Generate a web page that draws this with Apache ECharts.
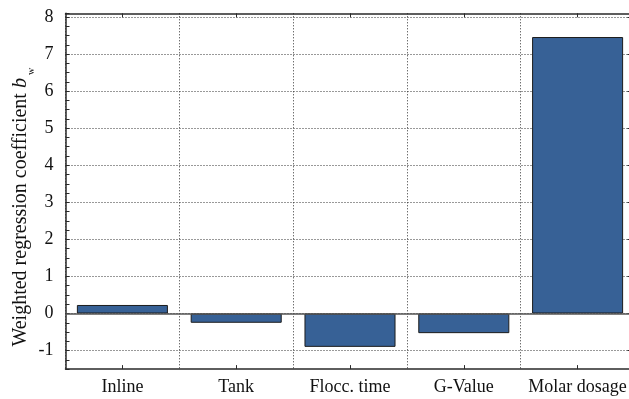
<!DOCTYPE html>
<html>
<head>
<meta charset="utf-8">
<script src="https://cdn.jsdelivr.net/npm/echarts@6/dist/echarts.min.js"></script>
<style>
  html, body { margin: 0; padding: 0; background: #fff; }
  #chart { width: 629px; height: 399px; }
</style>
</head>
<body>
<div id="chart"></div>
<script>
// Factors and their weighted regression coefficients
const categories = ['Inline', 'Tank', 'Flocc. time', 'G-Value', 'Molar dosage'];
const coefficients = [0.23, -0.25, -0.90, -0.53, 7.46];

// Value-axis range, labelled ticks and small-tick step
const yMajorTicks = [-1, 0, 1, 2, 3, 4, 5, 6, 7, 8];
const yMin = -1.5;
const yMax = 8.1;
const yMinorStep = 0.25;

const serif = '"Liberation Serif", "Times New Roman", serif';
const frameColor = '#2a2a2a';
const gridLine = { show: true, interval: 0, lineStyle: { color: '#333', type: [1, 2], width: 1 } };

const chart = echarts.init(document.getElementById('chart'), null, { renderer: 'canvas' });

chart.setOption({
  animation: false,
  backgroundColor: '#ffffff',
  grid: { left: 65.5, right: -5.5, top: 13.3, bottom: 29.9, containLabel: false, outerBoundsMode: 'none' },
  xAxis: [
    {
      type: 'category',
      data: categories,
      position: 'bottom',
      boundaryGap: true,
      axisLine: { show: true, onZero: false, lineStyle: { color: frameColor, width: 1.5 } },
      axisTick: { show: true, inside: true, interval: 0, alignWithLabel: true, length: 4, lineStyle: { color: frameColor } },
      axisLabel: { interval: 0, fontFamily: serif, fontSize: 18, color: '#111', margin: 9 },
      splitLine: gridLine
    },
    {
      type: 'category',
      data: categories,
      position: 'top',
      boundaryGap: true,
      axisLine: { show: true, onZero: false, lineStyle: { color: frameColor, width: 1.5 } },
      axisTick: { show: true, inside: true, interval: 0, alignWithLabel: true, length: 4, lineStyle: { color: frameColor } },
      axisLabel: { show: false },
      splitLine: { show: false }
    }
  ],
  yAxis: [
    {
      // left frame: small ticks every quarter unit, labels at integers
      type: 'value',
      min: yMin,
      max: yMax,
      interval: yMinorStep,
      position: 'left',
      axisLine: { show: true, onZero: false, lineStyle: { color: frameColor, width: 1.5 } },
      axisTick: { show: true, inside: true, length: 4, lineStyle: { color: frameColor } },
      axisLabel: { customValues: yMajorTicks, fontFamily: serif, fontSize: 18, color: '#111', margin: 12 },
      splitLine: { show: false },
      name: '{t|Weighted regression coefficient }{b|b}{s|w}',
      nameLocation: 'middle',
      nameRotate: 90,
      nameGap: 29,
      nameMoveOverlap: false,
      nameTextStyle: {
        padding: [0, 32, 0, 0],
        rich: {
          t: { fontFamily: serif, fontSize: 20, lineHeight: 20, verticalAlign: 'top', color: '#111' },
          b: { fontFamily: serif, fontSize: 20, lineHeight: 20, verticalAlign: 'top', fontStyle: 'italic', color: '#111' },
          s: { fontFamily: serif, fontSize: 10, lineHeight: 26, verticalAlign: 'bottom', color: '#111', padding: [0, 0, 0, 3] }
        }
      }
    },
    {
      // right frame: integer ticks carrying the horizontal grid lines
      type: 'value',
      min: yMin,
      max: yMax,
      position: 'right',
      axisLine: { show: true, onZero: false, lineStyle: { color: frameColor, width: 1.5 } },
      axisTick: { show: true, inside: true, length: 7, customValues: yMajorTicks, lineStyle: { color: frameColor } },
      axisLabel: { show: false, customValues: yMajorTicks },
      splitLine: { show: true, lineStyle: { color: '#333', type: [1, 2], width: 1 } }
    }
  ],
  series: [
    {
      type: 'bar',
      data: coefficients,
      xAxisIndex: 0,
      yAxisIndex: 0,
      barWidth: '80%',
      itemStyle: { color: '#376196', borderColor: '#1c1c1c', borderWidth: 1 },
      markLine: {
        silent: true,
        symbol: 'none',
        label: { show: false },
        lineStyle: { color: '#555', type: 'solid', width: 1.5 },
        data: [{ yAxis: 0 }]
      }
    }
  ]
});
</script>
</body>
</html>
